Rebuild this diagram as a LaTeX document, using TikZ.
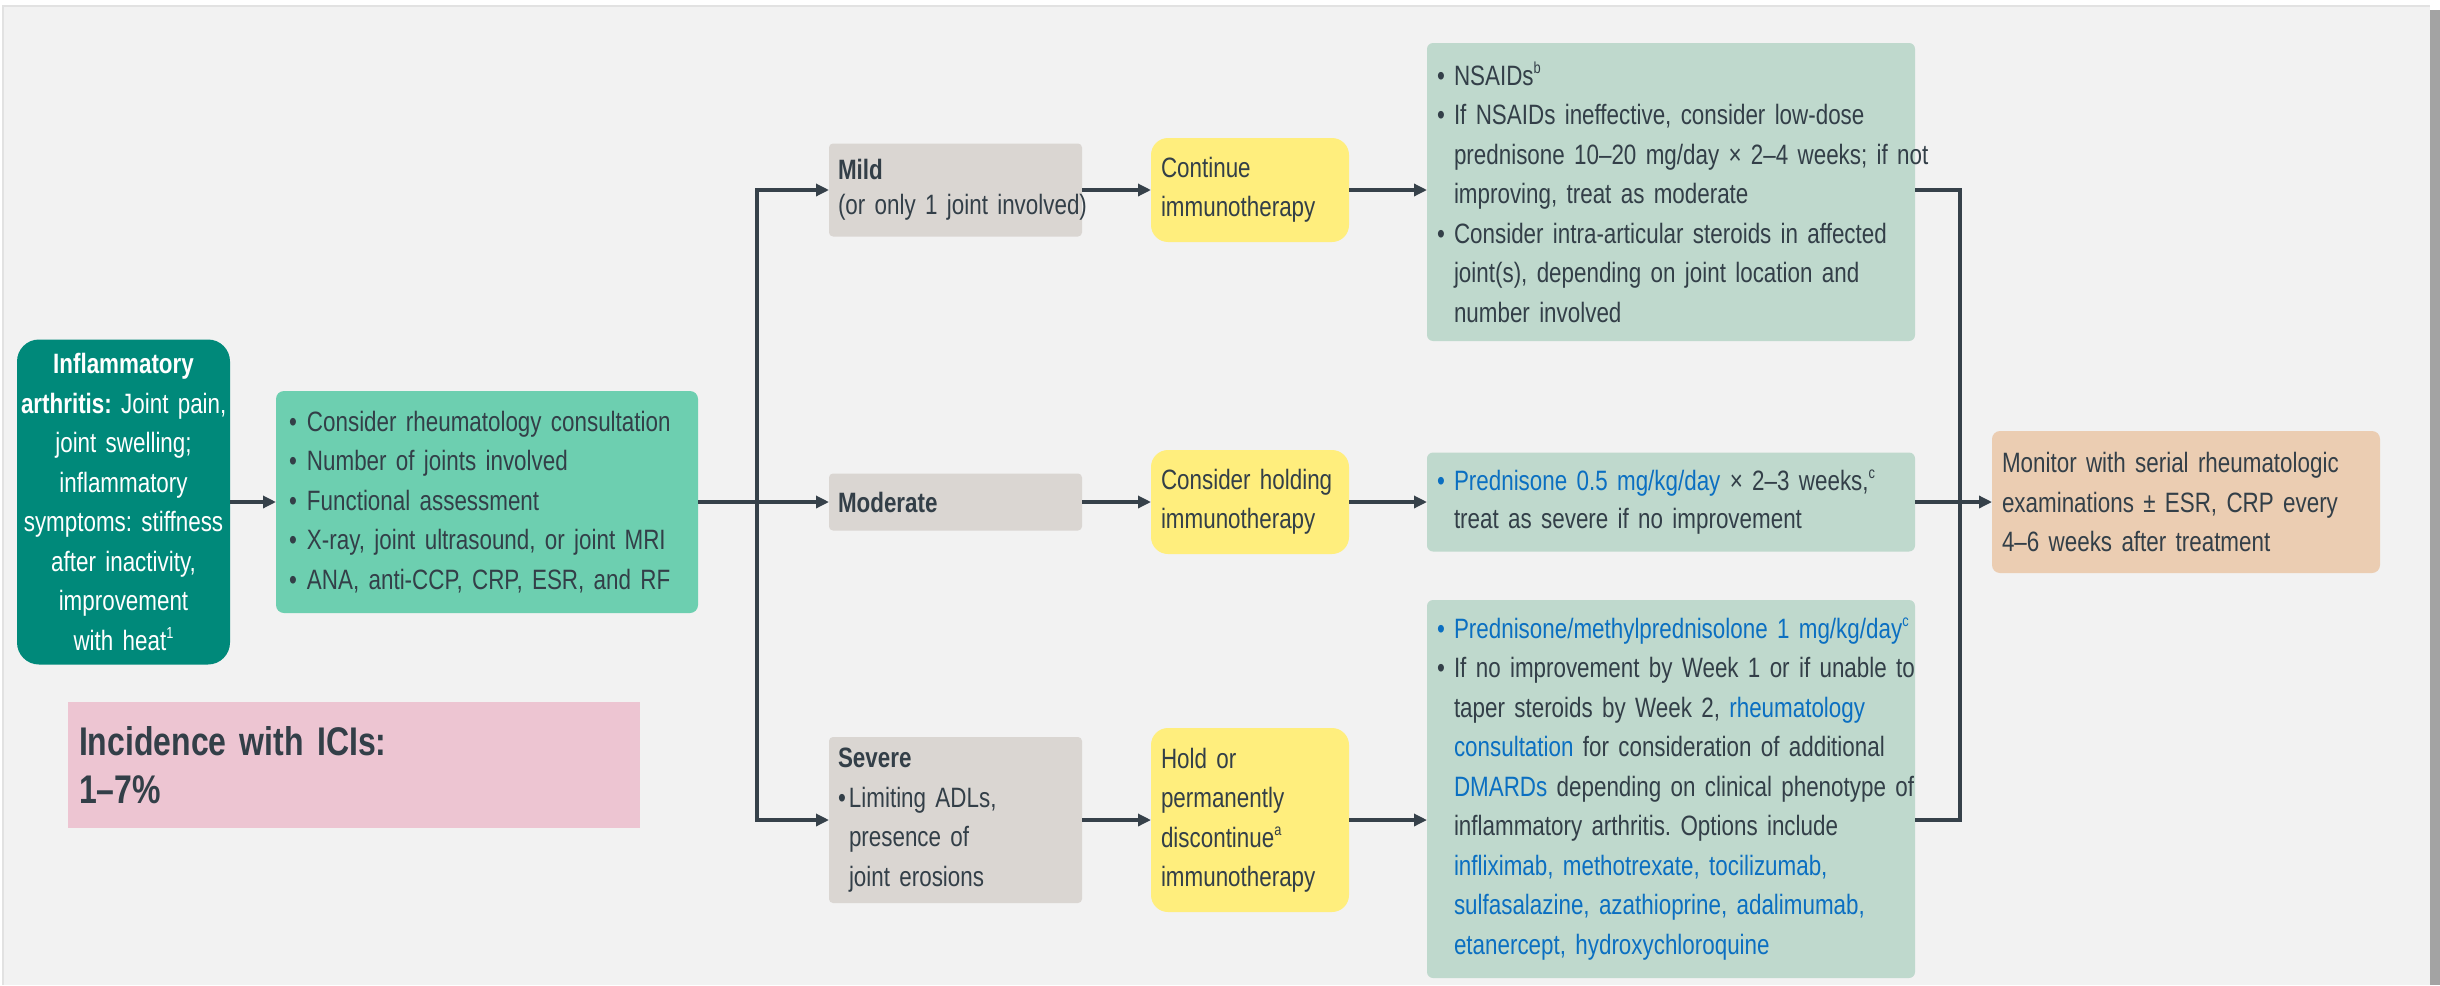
\documentclass[tikz,border=0pt]{standalone}
\usepackage{fontspec}
\setmainfont{Liberation Sans}[FakeStretch=0.8]
\usetikzlibrary{arrows.meta}

\definecolor{pagebg}{HTML}{F2F2F2}
\definecolor{framegray}{HTML}{E2E2E2}
\definecolor{sidebar}{HTML}{A3A3A3}
\definecolor{ink}{HTML}{333F48}
\definecolor{wire}{HTML}{36414A}
\definecolor{linkblue}{HTML}{0B6FC1}
\definecolor{tealdark}{HTML}{00897A}
\definecolor{tealmint}{HTML}{6DCFB0}
\definecolor{stone}{HTML}{DAD6D2}
\definecolor{lemon}{HTML}{FFEE7D}
\definecolor{sage}{HTML}{BFD9CD}
\definecolor{peach}{HTML}{EBCDB2}
\definecolor{blush}{HTML}{EDC5D2}

\frenchspacing
\newcommand\bodyfont{\fontsize{28}{39.5}\selectfont\spaceskip=5.4pt plus 2pt minus 1pt\relax}
\newcommand\bigfont{\fontsize{40}{48}\selectfont\spaceskip=8pt plus 2pt minus 1pt\relax}
\newcommand\sps[1]{\raisebox{0.42em}{\fontsize{16}{16}\selectfont #1}}
\newcommand\bulline[2][17pt]{\mbox{\makebox[#1][l]{\textbullet}#2}}
\newcommand\contline[2][17pt]{\mbox{\hspace*{#1}#2}}
\newcommand\drug[1]{\textcolor{linkblue}{#1}}

\tikzset{
  panel/.style={rectangle, inner ysep=0pt, outer sep=0pt, align=left,
                font=\bodyfont, text=ink},
  graybox/.style={panel, fill=stone, rounded corners=4pt, inner xsep=9pt,
                  minimum width=253pt, text width=235pt, anchor=west},
  actbox/.style={panel, fill=lemon, rounded corners=17pt, inner xsep=10pt,
                 minimum width=198pt, minimum height=104pt, text width=178pt,
                 anchor=west},
  treatbox/.style={panel, fill=sage, rounded corners=6pt, inner xsep=10pt,
                   minimum width=488pt, text width=468pt, anchor=west},
  ln/.style={draw=wire, line width=3.2pt},
  arr/.style={ln, -{Triangle[length=13pt,width=12pt]}},
}

\begin{document}
\begin{tikzpicture}[x=1pt, y=-1pt]
  \useasboundingbox (0,0) rectangle (2440,985);
  % page backdrop with thin frame and right side bar
  \fill[white] (0,0) rectangle (2440,985);
  \fill[pagebg] (3,6) rectangle (2430,985);
  \draw[framegray, line width=2pt] (3,985) -- (3,6) -- (2430,6);
  \fill[sidebar] (2430,10) rectangle (2440,985);

  % presenting symptoms and work-up
  \node[panel, fill=tealdark, text=white, align=center, inner xsep=4pt,
        minimum width=213pt, minimum height=325pt, text width=205pt,
        rounded corners=22pt] (sym) at (123.5,502)
    {\mbox{\textbf{Inflammatory}}\\\mbox{\textbf{arthritis:} Joint pain,}\\
     \mbox{joint swelling;}\\\mbox{inflammatory}\\\mbox{symptoms: stiffness}\\
     \mbox{after inactivity,}\\\mbox{improvement}\\\mbox{with heat\sps{1}}};

  \node[panel, fill=tealmint, rounded corners=8pt, inner xsep=13pt,
        minimum width=422pt, minimum height=222pt, text width=396pt]
        (diag) at (487,502)
    {\bulline[18pt]{Consider rheumatology consultation}\\
     \bulline[18pt]{Number of joints involved}\\
     \bulline[18pt]{Functional assessment}\\
     \bulline[18pt]{X-ray, joint ultrasound, or joint MRI}\\
     \bulline[18pt]{ANA, anti-CCP, CRP, ESR, and RF}};

  \node[panel, fill=blush, inner xsep=11pt, minimum width=572pt,
        minimum height=126pt, text width=550pt, anchor=west,
        font=\bigfont] (inc) at (68,765)
    {\textbf{Incidence with ICIs:}\\\textbf{1–7\%}};

  % severity grades
  \node[graybox, minimum height=93pt] (mildG) at (829,190)
    {\mbox{\textbf{Mild}}\\[-4pt]\mbox{(or only 1 joint involved)}};
  \node[graybox, minimum height=57pt] (modG) at (829,502)
    {\textbf{Moderate}};
  \node[graybox, minimum height=166pt] (sevG) at (829,820)
    {\mbox{\textbf{Severe}}\\\bulline[11pt]{Limiting ADLs,}\\
     \contline[11pt]{presence of}\\\contline[11pt]{joint erosions}};

  % immunotherapy actions
  \node[actbox] (contY) at (1151,190) {\mbox{Continue}\\\mbox{immunotherapy}};
  \node[actbox] (holdY) at (1151,502) {\mbox{Consider holding}\\\mbox{immunotherapy}};
  \node[actbox, minimum height=184pt] (stopY) at (1151,820)
    {\mbox{Hold or}\\\mbox{permanently}\\\mbox{discontinue\sps{a}}\\\mbox{immunotherapy}};

  % treatments
  \node[treatbox, minimum height=298pt] (mildT) at (1427,192)
    {\bulline{NSAIDs\sps{b}}\\
     \bulline{If NSAIDs ineffective, consider low-dose}\\
     \contline{prednisone 10–20 mg/day × 2–4 weeks; if not}\\
     \contline{improving, treat as moderate}\\
     \bulline{Consider intra-articular steroids in affected}\\
     \contline{joint(s), depending on joint location and}\\
     \contline{number involved}};

  \node[treatbox, minimum height=99pt] (modT) at (1427,502)
    {\mbox{\drug{\makebox[17pt][l]{\textbullet}Prednisone 0.5 mg/kg/day} × 2–3 weeks,\sps{c}}\\[-2pt]
     \contline{treat as severe if no improvement}};

  \node[treatbox, minimum height=378pt] (sevT) at (1427,789)
    {\mbox{\drug{\makebox[17pt][l]{\textbullet}Prednisone/methylprednisolone 1 mg/kg/day\sps{c}}}\\
     \bulline{If no improvement by Week 1 or if unable to}\\
     \contline{taper steroids by Week 2, \drug{rheumatology}}\\
     \contline{\drug{consultation} for consideration of additional}\\
     \contline{\drug{DMARDs} depending on clinical phenotype of}\\
     \contline{inflammatory arthritis. Options include}\\
     \contline{\drug{infliximab, methotrexate, tocilizumab,}}\\
     \contline{\drug{sulfasalazine, azathioprine, adalimumab,}}\\
     \contline{\drug{etanercept, hydroxychloroquine}}};

  % follow-up
  \node[panel, fill=peach, rounded corners=8pt, inner xsep=10pt,
        minimum width=388pt, minimum height=142pt, text width=368pt,
        anchor=west] (mon) at (1992,502)
    {\mbox{Monitor with serial rheumatologic}\\\mbox{examinations ± ESR, CRP every}\\
     \mbox{4–6 weeks after treatment}};

  % connectors
  \coordinate (br) at (757,502);
  \coordinate (jn) at (1960,502);
  \draw[arr] (sym.east) -- (diag.west);
  \draw[ln] (diag.east) -- (br);
  \draw[arr] (br) |- (mildG.west);
  \draw[arr] (br) -- (modG.west);
  \draw[arr] (br) |- (sevG.west);

  \draw[arr] (mildG.east) -- (contY.west);
  \draw[arr] (modG.east) -- (holdY.west);
  \draw[arr] (sevG.east) -- (stopY.west);

  \draw[arr] (contY.east) -- (contY.east -| mildT.west);
  \draw[arr] (holdY.east) -- (modT.west);
  \draw[arr] (stopY.east) -- (stopY.east -| sevT.west);

  \draw[ln] (contY.east -| mildT.east) -| (jn);
  \draw[ln] (stopY.east -| sevT.east) -| (jn);
  \draw[arr] (modT.east) -- (mon.west);
\end{tikzpicture}
\end{document}
